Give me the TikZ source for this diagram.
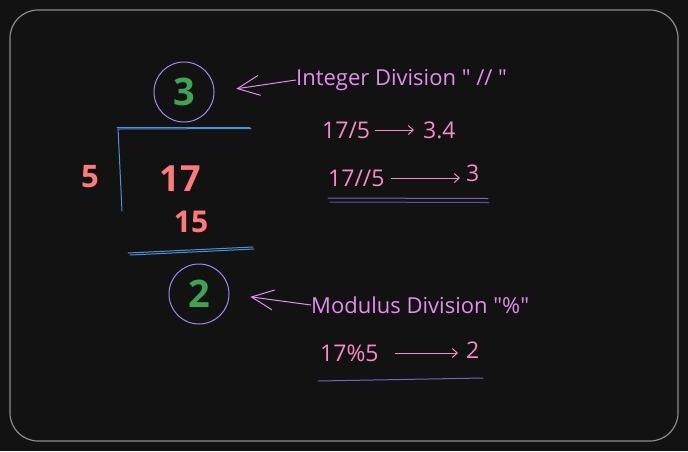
\documentclass[tikz,border=0pt]{standalone}
\usepackage{fontspec}
\setmainfont{Open Sans}
\newfontfamily\notefont{Open Sans}[Ligatures=ResetAll]
\usetikzlibrary{arrows.meta}

\definecolor{board}{RGB}{18,18,18}
\definecolor{framec}{RGB}{140,140,140}
\definecolor{ringc}{RGB}{165,135,235}
\definecolor{digitg}{RGB}{64,162,82}
\definecolor{bluec}{RGB}{78,146,212}
\definecolor{redd}{RGB}{255,122,122}
\definecolor{notec}{RGB}{226,142,238}
\definecolor{calcc}{RGB}{246,140,196}
\definecolor{linec}{RGB}{118,98,190}

\begin{document}
\begin{tikzpicture}[x=1pt, y=-1pt,
    ring/.style={circle, draw=ringc, line width=1pt, minimum size=60pt, inner sep=0pt,
      text=digitg, font=\fontsize{38}{38}\selectfont\bfseries},
    reddigit/.style={text=redd, inner sep=0pt, font=\fontsize{#1}{#1}\selectfont\bfseries},
    note/.style={text=notec, anchor=west, inner sep=0pt, font=\notefont\fontsize{22}{22}\selectfont},
    calc/.style={text=calcc, anchor=west, inner sep=0pt, font=\fontsize{23}{23}\selectfont},
    bigarrow/.style={draw=notec, line width=1pt, -{Straight Barb[length=22pt,width=20pt]}},
    smallarrow/.style={draw=calcc, line width=1pt, -{Straight Barb[length=5pt,width=9pt]}},
    sketch/.style={line width=1pt, line cap=round},
  ]
  % board
  \fill[board] (0,0) rectangle (688,451);
  \draw[framec, line width=1.2pt, rounded corners=28pt] (10,10) rectangle (678,441);

  % long division
  \node[ring] (quot) at (184,92) {3};
  \node[ring] (rem) at (199,294) {2};
  \node[reddigit=31] (dvsr) at (90,177) {5};
  \node[reddigit=36] (dvnd) at (180,179) {17};
  \node[reddigit=30] (prod) at (191,222) {15};

  \draw[sketch, bluec] (117,127) -- (250,127);
  \draw[sketch, bluec] (119,129) -- (251,128.5);
  \draw[sketch, bluec] (118,128) -- (122,211);
  \draw[sketch, bluec] (128,253) -- (253,247);
  \draw[sketch, bluec] (130,255) -- (254,249);

  % integer division
  \node[note] (intlbl) at (296,80) {Integer Division " // "};
  \draw[bigarrow, shorten >=22pt] (intlbl.west) -- (quot.east);

  \node[calc] (qa) at (322,130) {17/5};
  \node[calc] (ra) at (423,130) {3.4};
  \draw[smallarrow, shorten <=5pt, shorten >=9pt] (qa.east) -- (ra.west);

  \node[calc] (qb) at (328,178) {17//5};
  \node[calc] (rb) at (466,173) {3};
  \draw[smallarrow, shorten <=6pt, shorten >=6pt] (qb.east) -- (rb.west |- qb.east);

  \draw[sketch, linec] (328,198) -- (488,198.5);
  \draw[sketch, linec!80!board] (330,202) -- (489,202.5);

  % modulus division
  \node[note] (modlbl) at (311,305) {Modulus Division "\%"};
  \draw[bigarrow, shorten >=21pt] (modlbl.west) -- (rem.east);

  \node[calc] (qc) at (320,353) {17\%5};
  \node[calc] (rc) at (466,350) {2};
  \draw[smallarrow, shorten <=16pt, shorten >=8pt] (qc.east) -- (rc.west |- qc.east);

  \draw[sketch, linec] (318,381) -- (483,378);
\end{tikzpicture}
\end{document}
